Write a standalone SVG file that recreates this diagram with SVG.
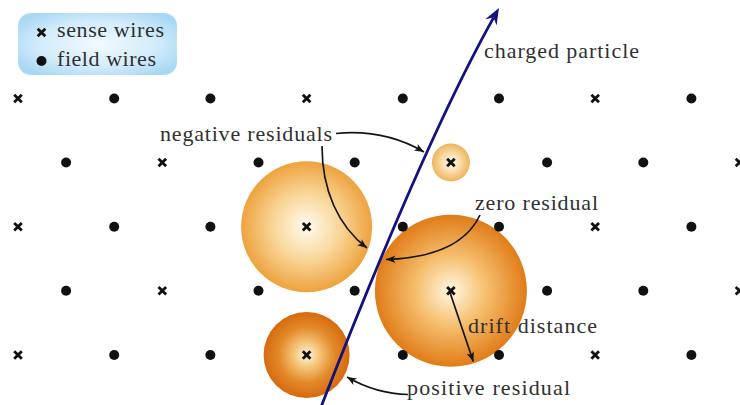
<svg xmlns="http://www.w3.org/2000/svg" xmlns:xlink="http://www.w3.org/1999/xlink" width="740" height="405" viewBox="0 0 740 405">
<style>
  text { font-family: "Liberation Serif", "Times New Roman", serif; font-size: 22px; fill: #303030; }
  .xm { stroke: #111; stroke-width: 2.8; fill: none; }
  .dot { fill: #111; }
  .ann { fill: none; stroke: #151515; stroke-width: 1.7; }
  .track { fill: none; stroke: #12127f; stroke-width: 2.8; }
</style>
<defs>
  <g id="sx"><path class="xm" d="M-3.8,-3.8 L3.8,3.8 M-3.8,3.8 L3.8,-3.8"/></g>
  <g id="fd"><circle class="dot" r="5"/></g>
  <radialGradient id="gLeg" cx="50%" cy="50%" r="60%">
    <stop offset="0" stop-color="#f2f9fe"/>
    <stop offset="0.6" stop-color="#d4ecfb"/>
    <stop offset="1" stop-color="#a9d8f4"/>
  </radialGradient>
  <radialGradient id="gA">
    <stop offset="0" stop-color="#fffaf0"/>
    <stop offset="0.5" stop-color="#f9d79a"/>
    <stop offset="1" stop-color="#eea23e"/>
  </radialGradient>
  <radialGradient id="gB">
    <stop offset="0" stop-color="#fff7e4"/>
    <stop offset="0.45" stop-color="#f6c070"/>
    <stop offset="1" stop-color="#e07c18"/>
  </radialGradient>
  <radialGradient id="gC">
    <stop offset="0" stop-color="#fff6e2"/>
    <stop offset="0.3" stop-color="#f5c477"/>
    <stop offset="0.65" stop-color="#e3892a"/>
    <stop offset="1" stop-color="#d66a0e"/>
  </radialGradient>
  <radialGradient id="gD">
    <stop offset="0" stop-color="#fff9ee"/>
    <stop offset="0.5" stop-color="#f9dca8"/>
    <stop offset="1" stop-color="#eeb45c"/>
  </radialGradient>
  <marker id="ah" viewBox="-10 -5 11 10" refX="0" refY="0" markerWidth="11" markerHeight="10" orient="auto" markerUnits="userSpaceOnUse">
    <path d="M0,0 L-9.5,-3.8 L-7,0 L-9.5,3.8 Z" fill="#151515"/>
  </marker>
  <marker id="ahb" viewBox="-17 -7 18 14" refX="-11" refY="0" markerWidth="18" markerHeight="14" orient="auto" markerUnits="userSpaceOnUse">
    <path d="M0,0 L-16.5,-6.5 L-11,0 L-16.5,6.5 Z" fill="#12127f"/>
  </marker>
</defs>

<g id="legend">
  <rect x="18" y="13" width="159" height="62" rx="13" fill="url(#gLeg)"/>
  <use xlink:href="#sx" x="41.5" y="32.5"/>
  <use xlink:href="#fd" x="41.5" y="61"/>
  <text x="57" y="37" textLength="107" lengthAdjust="spacing">sense wires</text>
  <text x="57" y="65.5" textLength="99" lengthAdjust="spacing">field wires</text>
</g>

<g id="drift-circles">
  <circle id="circle-negative-large" cx="306.6" cy="226.7" r="65.5" fill="url(#gA)"/>
  <circle id="circle-zero" cx="450.9" cy="290.8" r="76" fill="url(#gB)"/>
  <circle id="circle-positive" cx="306.6" cy="355" r="43" fill="url(#gC)"/>
  <circle id="circle-negative-small" cx="450.9" cy="162.5" r="19" fill="url(#gD)"/>
</g>

<g id="wires">
  <use xlink:href="#sx" x="18" y="98.5"/>
  <use xlink:href="#fd" x="114.2" y="98.5"/>
  <use xlink:href="#fd" x="210.4" y="98.5"/>
  <use xlink:href="#sx" x="306.6" y="98.5"/>
  <use xlink:href="#fd" x="402.8" y="98.5"/>
  <use xlink:href="#fd" x="499" y="98.5"/>
  <use xlink:href="#sx" x="595.2" y="98.5"/>
  <use xlink:href="#fd" x="691.4" y="98.5"/>
  <use xlink:href="#fd" x="66.1" y="162.5"/>
  <use xlink:href="#sx" x="162.3" y="162.5"/>
  <use xlink:href="#fd" x="258.5" y="162.5"/>
  <use xlink:href="#fd" x="354.7" y="162.5"/>
  <use xlink:href="#sx" x="450.9" y="162.5"/>
  <use xlink:href="#fd" x="547.1" y="162.5"/>
  <use xlink:href="#fd" x="643.3" y="162.5"/>
  <use xlink:href="#sx" x="739.5" y="162.5"/>
  <use xlink:href="#sx" x="18" y="226.7"/>
  <use xlink:href="#fd" x="114.2" y="226.7"/>
  <use xlink:href="#fd" x="210.4" y="226.7"/>
  <use xlink:href="#sx" x="306.6" y="226.7"/>
  <use xlink:href="#fd" x="402.8" y="226.7"/>
  <use xlink:href="#fd" x="499" y="226.7"/>
  <use xlink:href="#sx" x="595.2" y="226.7"/>
  <use xlink:href="#fd" x="691.4" y="226.7"/>
  <use xlink:href="#fd" x="66.1" y="290.8"/>
  <use xlink:href="#sx" x="162.3" y="290.8"/>
  <use xlink:href="#fd" x="258.5" y="290.8"/>
  <use xlink:href="#fd" x="354.7" y="290.8"/>
  <use xlink:href="#sx" x="450.9" y="290.8"/>
  <use xlink:href="#fd" x="547.1" y="290.8"/>
  <use xlink:href="#fd" x="643.3" y="290.8"/>
  <use xlink:href="#sx" x="739.5" y="290.8"/>
  <use xlink:href="#sx" x="18" y="355"/>
  <use xlink:href="#fd" x="114.2" y="355"/>
  <use xlink:href="#fd" x="210.4" y="355"/>
  <use xlink:href="#sx" x="306.6" y="355"/>
  <use xlink:href="#fd" x="402.8" y="355"/>
  <use xlink:href="#fd" x="499" y="355"/>
  <use xlink:href="#sx" x="595.2" y="355"/>
  <use xlink:href="#fd" x="691.4" y="355"/>
</g>

<g id="connectors">
  <path id="particle-track" class="track" d="M321,407 Q424.8,140.5 493.6,17.6" marker-end="url(#ahb)"/>
  <path class="ann" d="M336,133.5 C372,130 400,138 424,152" marker-end="url(#ah)"/>
  <path class="ann" d="M322,146 C322,190 338,226 367,248" marker-end="url(#ah)"/>
  <path class="ann" d="M480,215 C466,245 432,258 386,259.5" marker-end="url(#ah)"/>
  <path class="ann" d="M450,292.5 L473.3,361.5" marker-end="url(#ah)"/>
  <path class="ann" d="M408,394.5 C386,394 366,388 347,377" marker-end="url(#ah)"/>
</g>

<g id="labels">
  <text id="label-particle" x="484" y="58" textLength="155" lengthAdjust="spacing">charged particle</text>
  <text id="label-negative" x="160" y="141" textLength="172" lengthAdjust="spacing">negative residuals</text>
  <text id="label-zero" x="475" y="210" textLength="123" lengthAdjust="spacing">zero residual</text>
  <text id="label-drift" x="468" y="333" textLength="129" lengthAdjust="spacing">drift distance</text>
  <text id="label-positive" x="407" y="395" textLength="163" lengthAdjust="spacing">positive residual</text>
</g>
</svg>
